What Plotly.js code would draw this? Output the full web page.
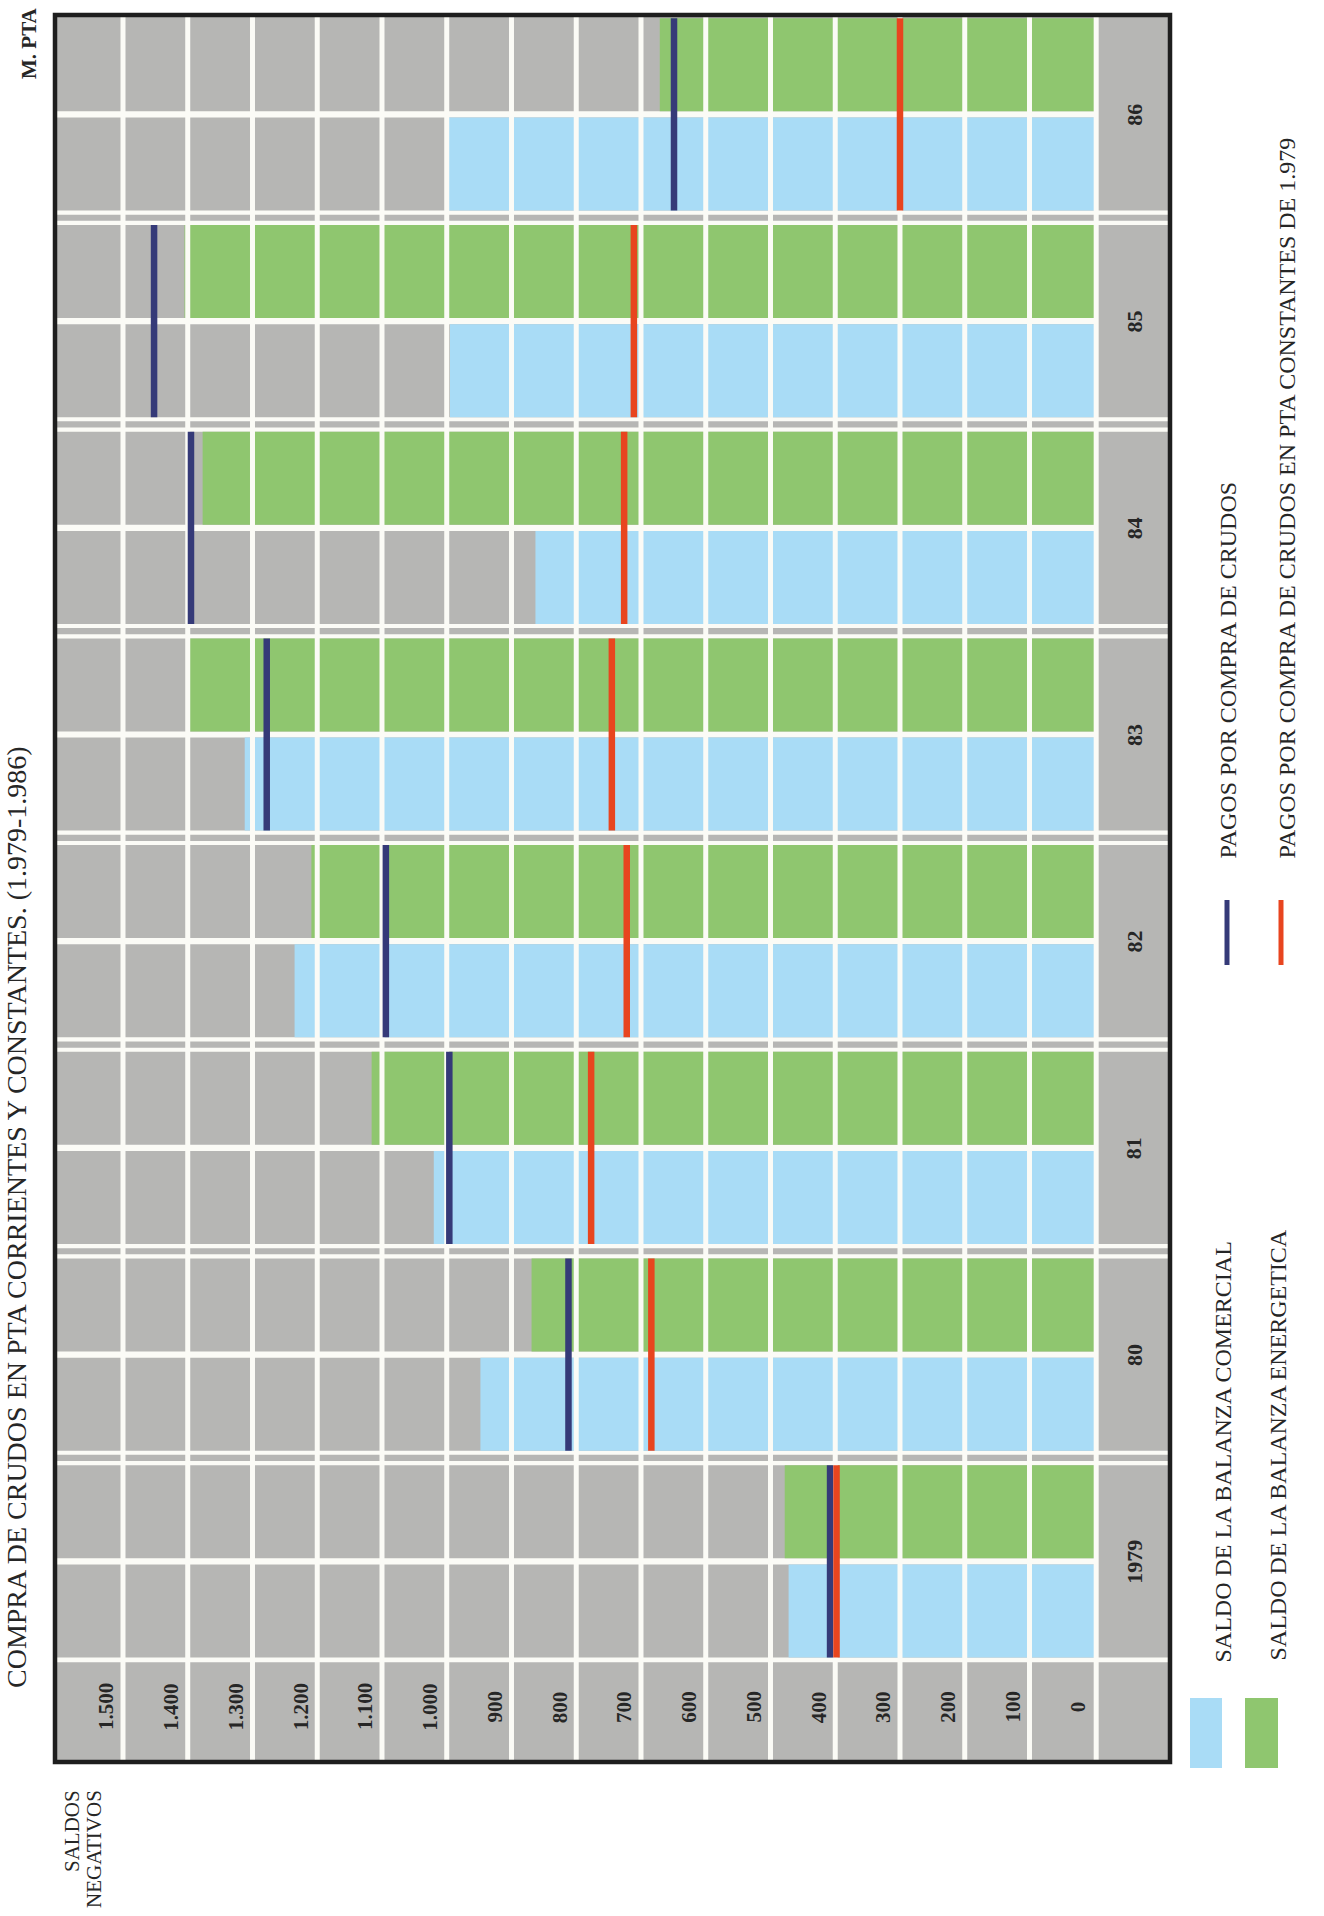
<!DOCTYPE html>
<html>
<head>
<meta charset="utf-8">
<script src="https://cdn.plot.ly/plotly-3.0.1.min.js"></script>
<style>
  html, body { margin: 0; padding: 0; background: #ffffff; }
  #chart { width: 1324px; height: 1916px; }
</style>
</head>
<body>
<div id="chart"></div>
<script>
// ---------------- DATA (miles de millones de pesetas) ----------------
const years = [1979, 1980, 1981, 1982, 1983, 1984, 1985, 1986];
const yearLabels = ['1979', '80', '81', '82', '83', '84', '85', '86'];
const saldoComercial   = [472, 948, 1020, 1235, 1312, 863, 995, 999];
const saldoEnergetico  = [478, 869, 1116, 1209, 1401, 1377, 1405, 671];
const pagosCorrientes  = [408, 812, 996, 1094, 1278, 1395, 1452, 649];
const pagosConstantes  = [398, 684, 777, 722, 745, 726, 711, 300];
const scaleValues = [0, 100, 200, 300, 400, 500, 600, 700, 800, 900, 1000, 1100, 1200, 1300, 1400, 1500];
const scaleLabels = ['0', '100', '200', '300', '400', '500', '600', '700', '800', '900', '1.000', '1.100', '1.200', '1.300', '1.400', '1.500'];

const titleText = 'COMPRA DE CRUDOS EN PTA CORRIENTES Y CONSTANTES. (1.979-1.986)';
const unitText = 'M. PTA';
const legendBars = ['SALDO DE LA BALANZA COMERCIAL', 'SALDO DE LA BALANZA ENERGETICA'];
const legendLines = ['PAGOS POR COMPRA DE CRUDOS', 'PAGOS POR COMPRA DE CRUDOS EN PTA CONSTANTES DE 1.979'];

// ---------------- STYLE / GEOMETRY ----------------
const GRAY = '#b6b6b4', WHITE = '#fbfbf6', BLUE = '#a9dcf6', GREEN = '#8fc66f';
const NAVY = '#353a78', RED = '#e8451f', FRAME = '#1e1e1e', INK = '#262626';
const SERIF = '"Liberation Serif", "Times New Roman", serif';
const L = 55, R = 1170, T = 15, B = 1762;
const X_RANGE = [1605, -117];
const Y_RANGE = [1978.029, 1986.481];
const HALF = 0.465, BAR = 0.45, INGAP = 0.015, SEPW = 0.02;
const px = p => (p - L) / (R - L);
const py = p => (B - p) / (B - T);

function segments(vals) {
  const x = [], y = [];
  vals.forEach((v, i) => { x.push(v, v, null); y.push(years[i] - HALF, years[i] + HALF, null); });
  return { x, y };
}

const gridX = [], gridY = [];
scaleValues.forEach(v => {
  const xv = v === 0 ? -3 : v;
  gridX.push(xv, xv, null); gridY.push(Y_RANGE[0], Y_RANGE[1], null);
});

const cur = segments(pagosCorrientes);
const con = segments(pagosConstantes);

const traces = [
  { type: 'bar', orientation: 'h', name: legendBars[0], x: saldoComercial, y: years,
    width: BAR, offset: -HALF, marker: { color: BLUE, line: { width: 0 } } },
  { type: 'bar', orientation: 'h', name: legendBars[1], x: saldoEnergetico, y: years,
    width: BAR, offset: INGAP, marker: { color: GREEN, line: { width: 0 } } },
  { type: 'scatter', mode: 'lines', x: gridX, y: gridY, line: { color: WHITE, width: 5 }, hoverinfo: 'skip' },
  { type: 'scatter', mode: 'lines', name: legendLines[0], x: cur.x, y: cur.y, line: { color: NAVY, width: 6.5 } },
  { type: 'scatter', mode: 'lines', name: legendLines[1], x: con.x, y: con.y, line: { color: RED, width: 6.5 } }
];

// ---------------- SHAPES ----------------
const shapes = [];
const band = (x0, x1, y0, y1) => shapes.push({ type: 'rect', xref: 'x', yref: 'y', x0, x1, y0, y1,
  fillcolor: WHITE, line: { width: 0 }, layer: 'below' });
years.forEach(y => band(X_RANGE[0], 0, y - INGAP, y + INGAP));
for (let i = 0; i < years.length - 1; i++) {
  band(X_RANGE[0], X_RANGE[1], years[i] + HALF, years[i] + HALF + SEPW);
  band(X_RANGE[0], X_RANGE[1], years[i + 1] - HALF - SEPW, years[i + 1] - HALF);
}
band(X_RANGE[0], X_RANGE[1], years[0] - HALF - 0.024, years[0] - HALF);

// frame
shapes.push({ type: 'rect', xref: 'paper', yref: 'paper', x0: 0, x1: 1, y0: 0, y1: 1,
  line: { color: FRAME, width: 4.5 }, fillcolor: 'rgba(0,0,0,0)', layer: 'above' });

// legend swatches and lines
shapes.push({ type: 'rect', xref: 'paper', yref: 'paper', x0: px(1190), x1: px(1222), y0: py(1768), y1: py(1698),
  fillcolor: BLUE, line: { width: 0 } });
shapes.push({ type: 'rect', xref: 'paper', yref: 'paper', x0: px(1245), x1: px(1278), y0: py(1768), y1: py(1698),
  fillcolor: GREEN, line: { width: 0 } });
shapes.push({ type: 'line', xref: 'paper', yref: 'paper', x0: px(1227), x1: px(1227), y0: py(965), y1: py(900),
  line: { color: NAVY, width: 5 } });
shapes.push({ type: 'line', xref: 'paper', yref: 'paper', x0: px(1281), x1: px(1281), y0: py(965), y1: py(900),
  line: { color: RED, width: 5 } });

// ---------------- ANNOTATIONS ----------------
const annotations = [];
scaleValues.forEach((v, i) => annotations.push({
  xref: 'x', yref: 'y', x: v + 26, y: 1978.296, text: scaleLabels[i], showarrow: false,
  textangle: -90, xanchor: 'center', yanchor: 'middle',
  font: { family: SERIF, size: 21, color: INK, weight: 'bold' }
}));
years.forEach((y, i) => annotations.push({
  xref: 'x', yref: 'y', x: -62, y: y, text: yearLabels[i], showarrow: false,
  textangle: -90, xanchor: 'center', yanchor: 'middle',
  font: { family: SERIF, size: 22, color: INK, weight: 'bold' }
}));
const paperText = (text, xp, yp, yanchor, size, weight) => annotations.push({
  xref: 'paper', yref: 'paper', x: px(xp), y: py(yp), text, showarrow: false,
  textangle: -90, xanchor: 'center', yanchor, font: { family: SERIF, size, color: INK, weight }
});
paperText(titleText, 16, 1217, 'middle', 28, 'normal');
paperText(unitText, 29, 43, 'middle', 21, 'bold');
paperText('SALDOS', 72, 1788, 'top', 21, 'normal');
paperText('NEGATIVOS', 94, 1788, 'top', 21, 'normal');
paperText(legendBars[0], 1222, 1665, 'bottom', 24, 'normal');
paperText(legendBars[1], 1277, 1663, 'bottom', 24, 'normal');
paperText(legendLines[0], 1227, 861, 'bottom', 24, 'normal');
paperText(legendLines[1], 1286, 861, 'bottom', 24, 'normal');

const axisCommon = { showgrid: false, zeroline: false, showticklabels: false, showline: false,
  ticks: '', fixedrange: true };

const layout = {
  width: 1324, height: 1916,
  margin: { l: L, r: 1324 - R, t: T, b: 1916 - B, pad: 0 },
  paper_bgcolor: '#ffffff', plot_bgcolor: GRAY,
  showlegend: false, barmode: 'overlay',
  font: { family: SERIF, color: INK },
  xaxis: Object.assign({ range: X_RANGE }, axisCommon),
  yaxis: Object.assign({ range: Y_RANGE }, axisCommon),
  shapes, annotations
};

Plotly.newPlot('chart', traces, layout, { staticPlot: true, displayModeBar: false });
</script>
</body>
</html>
